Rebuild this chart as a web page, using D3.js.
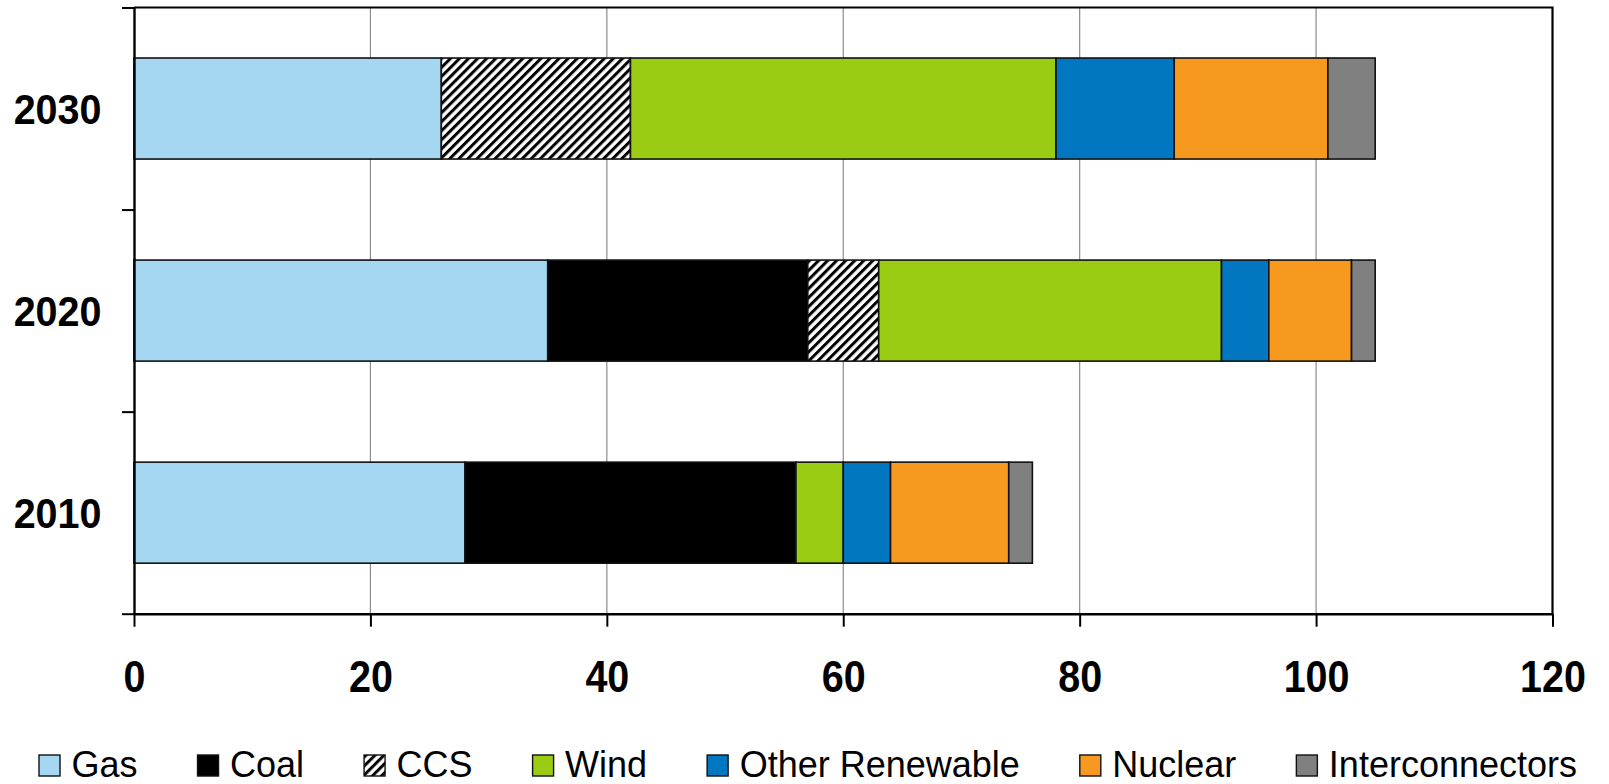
<!DOCTYPE html>
<html>
<head>
<meta charset="utf-8">
<script src="https://cdn.jsdelivr.net/npm/d3@7"></script>
<style>
  html, body { margin: 0; padding: 0; background: #fff; }
  svg { display: block; font-family: "Liberation Sans", Arial, sans-serif; }
</style>
</head>
<body>
<svg id="chart" width="1609" height="784"></svg>
<script>
// Generation mix by year (stacked, left to right)
const years = ["2030", "2020", "2010"];
const sources = ["Gas", "Coal", "CCS", "Wind", "Other Renewable", "Nuclear", "Interconnectors"];
const gas            = [26, 35, 28];
const coal           = [0, 22, 28];
const ccs            = [16, 6, 0];
const wind           = [36, 29, 4];
const otherRenewable = [10, 4, 4];
const nuclear        = [13, 7, 10];
const interconnectors = [4, 2, 2];
const xTicks = [0, 20, 40, 60, 80, 100, 120];

const seriesValues = [gas, coal, ccs, wind, otherRenewable, nuclear, interconnectors];
const fills = ["#a6d7f2", "#000000", "url(#hatch)", "#99cc13", "#0077c0", "#f7991f", "#808080"];

const rows = years.map((y, i) => {
  const r = { year: y };
  sources.forEach((s, j) => { r[s] = seriesValues[j][i]; });
  return r;
});

const svg = d3.select("#chart");
const margin = { left: 134, top: 7.5, right: 1552.5, bottom: 613.7 };

// diagonal hatch for CCS
const defs = svg.append("defs");
const pat = defs.append("pattern")
  .attr("id", "hatch")
  .attr("patternUnits", "userSpaceOnUse")
  .attr("width", 6.4).attr("height", 6.4)
  .attr("patternTransform", "rotate(45)");
pat.append("rect").attr("width", 6.4).attr("height", 6.4).attr("fill", "#fff");
pat.append("rect").attr("x", 0).attr("y", 0).attr("width", 3).attr("height", 6.4).attr("fill", "#000");

const x = d3.scaleLinear().domain([0, 120]).range([margin.left, margin.right]);
const y = d3.scaleBand().domain(years).range([margin.top, margin.bottom])
  .paddingInner(0.5).paddingOuter(0.25);
const yEdge = d3.scaleLinear().domain([0, years.length]).range([margin.top, margin.bottom]);

// vertical gridlines
svg.append("g")
  .selectAll("line")
  .data(xTicks.filter(t => t > 0 && t < 120))
  .join("line")
  .attr("x1", d => x(d)).attr("x2", d => x(d))
  .attr("y1", margin.top).attr("y2", margin.bottom)
  .attr("stroke", "#8c8c8c").attr("stroke-width", 1.2);

// stacked bars
const stack = d3.stack().keys(sources)(rows);
svg.append("g")
  .selectAll("g")
  .data(stack)
  .join("g")
  .attr("fill", (d, i) => fills[i])
  .selectAll("rect")
  .data(d => d.filter(p => p[1] - p[0] > 0))
  .join("rect")
  .attr("x", d => x(d[0]))
  .attr("width", d => x(d[1]) - x(d[0]))
  .attr("y", d => y(d.data.year))
  .attr("height", y.bandwidth())
  .attr("stroke", "#111")
  .attr("stroke-width", 1.6);

// plot frame: top and right edges
svg.append("path")
  .attr("d", `M${margin.left},${margin.top}H${margin.right}V${margin.bottom}`)
  .attr("fill", "none").attr("stroke", "#000").attr("stroke-width", 2.2);

// x axis
const xAxis = svg.append("g")
  .attr("transform", `translate(0,${margin.bottom})`)
  .call(d3.axisBottom(x).tickValues(xTicks).tickSize(13).tickSizeOuter(0));
xAxis.select(".domain").attr("stroke", "#000").attr("stroke-width", 2.4);
xAxis.selectAll(".tick line").attr("stroke", "#000").attr("stroke-width", 2);
xAxis.selectAll(".tick text")
  .attr("fill", "#000")
  .attr("y", 0).attr("dy", null)
  .attr("transform", "translate(0,78.5) scale(1,1.12)")
  .style("font-size", "39.5px").style("font-weight", "bold")
  .attr("font-family", "Liberation Sans, Arial, sans-serif");

// y axis: tick marks at category boundaries
const yAxis = svg.append("g")
  .attr("transform", `translate(${margin.left},0)`)
  .call(d3.axisLeft(yEdge).ticks(years.length).tickFormat("").tickSize(12).tickSizeOuter(0));
yAxis.select(".domain").attr("stroke", "#000").attr("stroke-width", 2.4);
yAxis.selectAll(".tick line").attr("stroke", "#000").attr("stroke-width", 2);

// category labels
svg.append("g")
  .selectAll("text")
  .data(years)
  .join("text")
  .attr("transform", d => `translate(101.5,${y(d) + y.bandwidth() / 2 + 15.5}) scale(1,1.06)`)
  .attr("text-anchor", "end")
  .style("font-size", "39.5px").style("font-weight", "bold")
  .text(d => d);

// legend
const legend = svg.append("g").attr("transform", "translate(39,755)");
let lx = 0;
sources.forEach((s, i) => {
  const g = legend.append("g").attr("transform", `translate(${lx},0)`);
  g.append("rect")
    .attr("width", 21).attr("height", 21)
    .attr("fill", fills[i]).attr("stroke", "#111").attr("stroke-width", 1.4);
  const t = g.append("text")
    .attr("x", 32.5).attr("y", 22)
    .style("font-size", "36px")
    .text(s);
  lx += 32.5 + t.node().getComputedTextLength() + 60;
});
</script>
</body>
</html>
